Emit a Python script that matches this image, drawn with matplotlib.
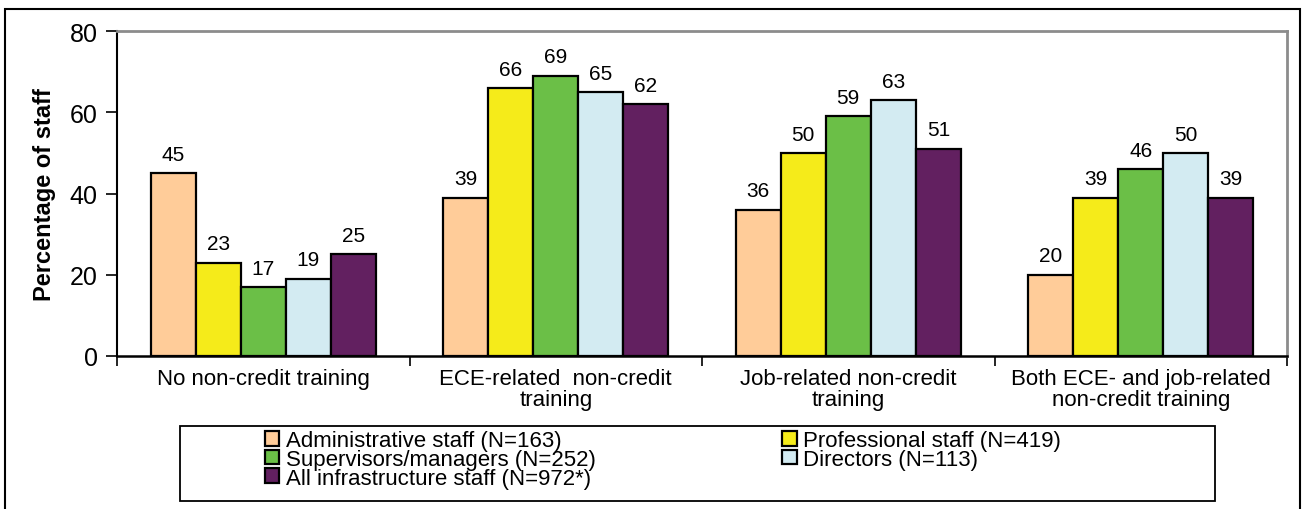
import matplotlib
matplotlib.use("Agg")
import matplotlib.pyplot as plt
import numpy as np
from matplotlib.patches import Rectangle

plt.rcParams['font.family'] = ['Liberation Sans', 'DejaVu Sans']

# data
categories = ["No non-credit training",
              "ECE-related  non-credit\ntraining",
              "Job-related non-credit\ntraining",
              "Both ECE- and job-related\nnon-credit training"]
series = ["Administrative staff (N=163)",
          "Professional staff (N=419)",
          "Supervisors/managers (N=252)",
          "Directors (N=113)",
          "All infrastructure staff (N=972*)"]
admin = [45, 39, 36, 20]
professional = [23, 66, 50, 39]
supervisors = [17, 69, 59, 46]
directors = [19, 65, 63, 50]
all_staff = [25, 62, 51, 39]
yticks = [0, 20, 40, 60, 80]

values = [admin, professional, supervisors, directors, all_staff]
colors = ["#FFCC99", "#F5EB1A", "#6BBF47", "#D3EBF2", "#622060"]

W, H = 1305, 510
fig = plt.figure(figsize=(W / 100, H / 100), dpi=100)
ax = fig.add_axes([117 / W, 1 - 357 / H, (1287 - 117) / W, (357 - 32) / H])

x = np.arange(len(categories))
w = 0.154
bars = []
for i, (vals, c, name) in enumerate(zip(values, colors, series)):
    b = ax.bar(x + (i - 2) * w, vals, w, color=c, edgecolor="black",
               linewidth=1.6, label=name, zorder=2)
    bars.append(b)
    for xi, v in zip(x + (i - 2) * w, vals):
        ax.text(xi, v + 2.3, str(v), ha="center", va="bottom", fontsize=15)

ax.set_xlim(-0.5, len(categories) - 0.5)
ax.set_ylim(0, 80)
ax.set_yticks(yticks)
ax.set_yticklabels([str(t) for t in yticks], fontsize=18)
ax.tick_params(axis="y", length=8, width=1.2, pad=6)

ax.set_xticks(x)
ax.set_xticklabels(categories, fontsize=16, linespacing=1.0)
ax.tick_params(axis="x", which="major", length=0, pad=9)
ax.set_xticks(np.arange(-0.5, len(categories)), minor=True)
ax.tick_params(axis="x", which="minor", length=7, width=1.2, direction="out")

ax.set_ylabel("Percentage of staff", fontsize=17, fontweight="bold")
ax.yaxis.set_label_coords(-0.052, 0.5)

ax.spines["left"].set_linewidth(1.5)
ax.spines["bottom"].set_linewidth(1.8)
for s in ("top", "right"):
    ax.spines[s].set_color("#8c8c8c")
    ax.spines[s].set_linewidth(2)

# legend box
fig.patches.append(Rectangle((180 / W, 1 - 502 / H), (1215 - 180) / W, 75 / H,
                             transform=fig.transFigure, fill=False,
                             edgecolor="black", linewidth=1.3))

# legend entries, two columns filled row by row
order = [0, 2, 4, 1, 3]
handles = [bars[k] for k in order]
labels = [series[k] for k in order]
leg = fig.legend(handles, labels, ncol=2, loc="upper left",
                 bbox_to_anchor=(265 / W, 1 - 431 / H),
                 fontsize=16, frameon=False, labelspacing=-0.1,
                 handlelength=0.64, handleheight=0.64, handletextpad=0.3,
                 columnspacing=8.4, borderpad=0, borderaxespad=0)

# outer border
fig.patches.append(Rectangle((5 / W, -0.05), (1300 - 5) / W, 1.05 - 10 / H,
                             transform=fig.transFigure, fill=False,
                             edgecolor="black", linewidth=1.5))

fig.savefig("out.png", dpi=100)
